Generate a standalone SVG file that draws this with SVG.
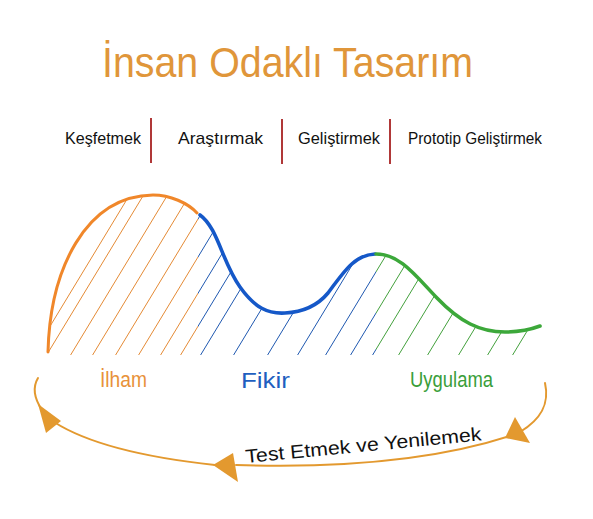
<svg xmlns="http://www.w3.org/2000/svg" width="593" height="519" viewBox="0 0 593 519">
<style>
text{font-family:"Liberation Sans","DejaVu Sans",sans-serif}
.phase{font-size:17px;fill:#111}
.sep{stroke:#B03838;stroke-width:2}
.hatch line{stroke-width:1.8;stroke-linecap:round}
.curve{fill:none;stroke-linecap:round;stroke-linejoin:round}
.loop{fill:none;stroke:#E3992F;stroke-width:2;stroke-linecap:round}
.head{fill:#E3992F}
.lbl{font-size:22px}
</style>
<defs>
<clipPath id="area"><path d="M48,356 L48,352 C50,270 85,196 153,195 C170,195 188,203 197,213 L200,215 C218,228 222,262 240,287 C255,308 268,314 285,313 C305,312 318,305 328,293 C345,270 355,255 375,254 C400,254 415,275 437,298 C460,322 480,332 505,332 C520,332 532,329 540,326 L540,355 L48,355 Z"/></clipPath>
<clipPath id="cO"><rect x="0" y="0" width="198" height="519"/></clipPath>
<clipPath id="cB"><rect x="198" y="0" width="178" height="519"/></clipPath>
<clipPath id="cG"><rect x="376" y="0" width="217" height="519"/></clipPath>
<g id="lines">
<line x1="32" y1="356" x2="152" y2="158"/><line x1="46" y1="356" x2="166" y2="158"/><line x1="70" y1="356" x2="190" y2="158"/><line x1="92" y1="356" x2="212" y2="158"/><line x1="115" y1="356" x2="235" y2="158"/><line x1="138" y1="356" x2="258" y2="158"/><line x1="160" y1="356" x2="280" y2="158"/><line x1="180" y1="356" x2="300" y2="158"/><line x1="200" y1="356" x2="320" y2="158"/><line x1="233" y1="356" x2="353" y2="158"/><line x1="267" y1="356" x2="387" y2="158"/><line x1="297" y1="356" x2="417" y2="158"/><line x1="325" y1="356" x2="445" y2="158"/><line x1="350" y1="356" x2="470" y2="158"/><line x1="372" y1="356" x2="492" y2="158"/><line x1="398" y1="356" x2="518" y2="158"/><line x1="427" y1="356" x2="547" y2="158"/><line x1="458" y1="356" x2="578" y2="158"/><line x1="487" y1="356" x2="607" y2="158"/><line x1="512" y1="356" x2="632" y2="158"/>
</g>
</defs>

<g id="title"><text x="102" y="77" font-size="42" fill="#E0963A" textLength="371" lengthAdjust="spacingAndGlyphs">İnsan Odaklı Tasarım</text></g>

<g id="phases">
<g id="phase-kesfetmek"><text class="phase" x="65" y="144" textLength="76" lengthAdjust="spacingAndGlyphs">Keşfetmek</text></g>
<g id="phase-arastirmak"><text class="phase" x="178" y="144" textLength="85" lengthAdjust="spacingAndGlyphs">Araştırmak</text></g>
<g id="phase-gelistirmek"><text class="phase" x="298" y="144" textLength="82" lengthAdjust="spacingAndGlyphs">Geliştirmek</text></g>
<g id="phase-prototip"><text class="phase" x="408" y="144" textLength="134" lengthAdjust="spacingAndGlyphs">Prototip Geliştirmek</text></g>
<line class="sep" x1="151" y1="118" x2="151" y2="163"/>
<line class="sep" x1="282" y1="119" x2="282" y2="164"/>
<line class="sep" x1="390" y1="119" x2="390" y2="164"/>
</g>

<g id="hatching" class="hatch" clip-path="url(#area)">
<g clip-path="url(#cO)" stroke="#E48A35"><use href="#lines"/></g>
<g clip-path="url(#cB)" stroke="#1F58B0"><use href="#lines"/></g>
<g clip-path="url(#cG)" stroke="#43A03C"><use href="#lines"/></g>
</g>

<g id="curves">
<path class="curve" stroke="#F0872A" stroke-width="3" d="M48,352 C50,270 85,196 153,195 C170,195 188,203 197,213"/>
<path class="curve" stroke="#1558C8" stroke-width="3.6" d="M200,215 C218,228 222,262 240,287 C255,308 268,314 285,313 C305,312 318,305 328,293 C345,270 355,255 375,254"/>
<path class="curve" stroke="#3CA83A" stroke-width="3.6" d="M376,254 C400,254 415,275 437,298 C460,322 480,332 505,332 C520,332 532,329 540,326"/>
</g>

<g id="label-ilham"><text class="lbl" x="100" y="387" fill="#E8923A" textLength="47" lengthAdjust="spacingAndGlyphs">İlham</text></g>
<g id="label-fikir"><text class="lbl" x="241" y="388" fill="#1F5FC0" textLength="49" lengthAdjust="spacingAndGlyphs">Fikir</text></g>
<g id="label-uygulama"><text class="lbl" x="410" y="387" fill="#3A9E3A" textLength="83" lengthAdjust="spacingAndGlyphs">Uygulama</text></g>

<g id="connectors">
<path class="loop" d="M545,383 C550,405 540,420 520,432"/>
<polygon class="head" points="505,438 515,417 530,443"/>
<path class="loop" d="M510,436 C430,462 330,468 236,465"/>
<polygon class="head" points="213,465 233,453 238,482"/>
<path class="loop" d="M215,465 C150,458 90,445 54,422"/>
<polygon class="head" points="38,404 61,421 46,433"/>
<path class="loop" d="M42,410 C34,398 32,388 38,378"/>
</g>

<g id="loop-label"><text x="246" y="463" font-size="19" fill="#111" textLength="237" lengthAdjust="spacingAndGlyphs" transform="rotate(-5.5 246 463)">Test Etmek ve Yenilemek</text></g>
</svg>
